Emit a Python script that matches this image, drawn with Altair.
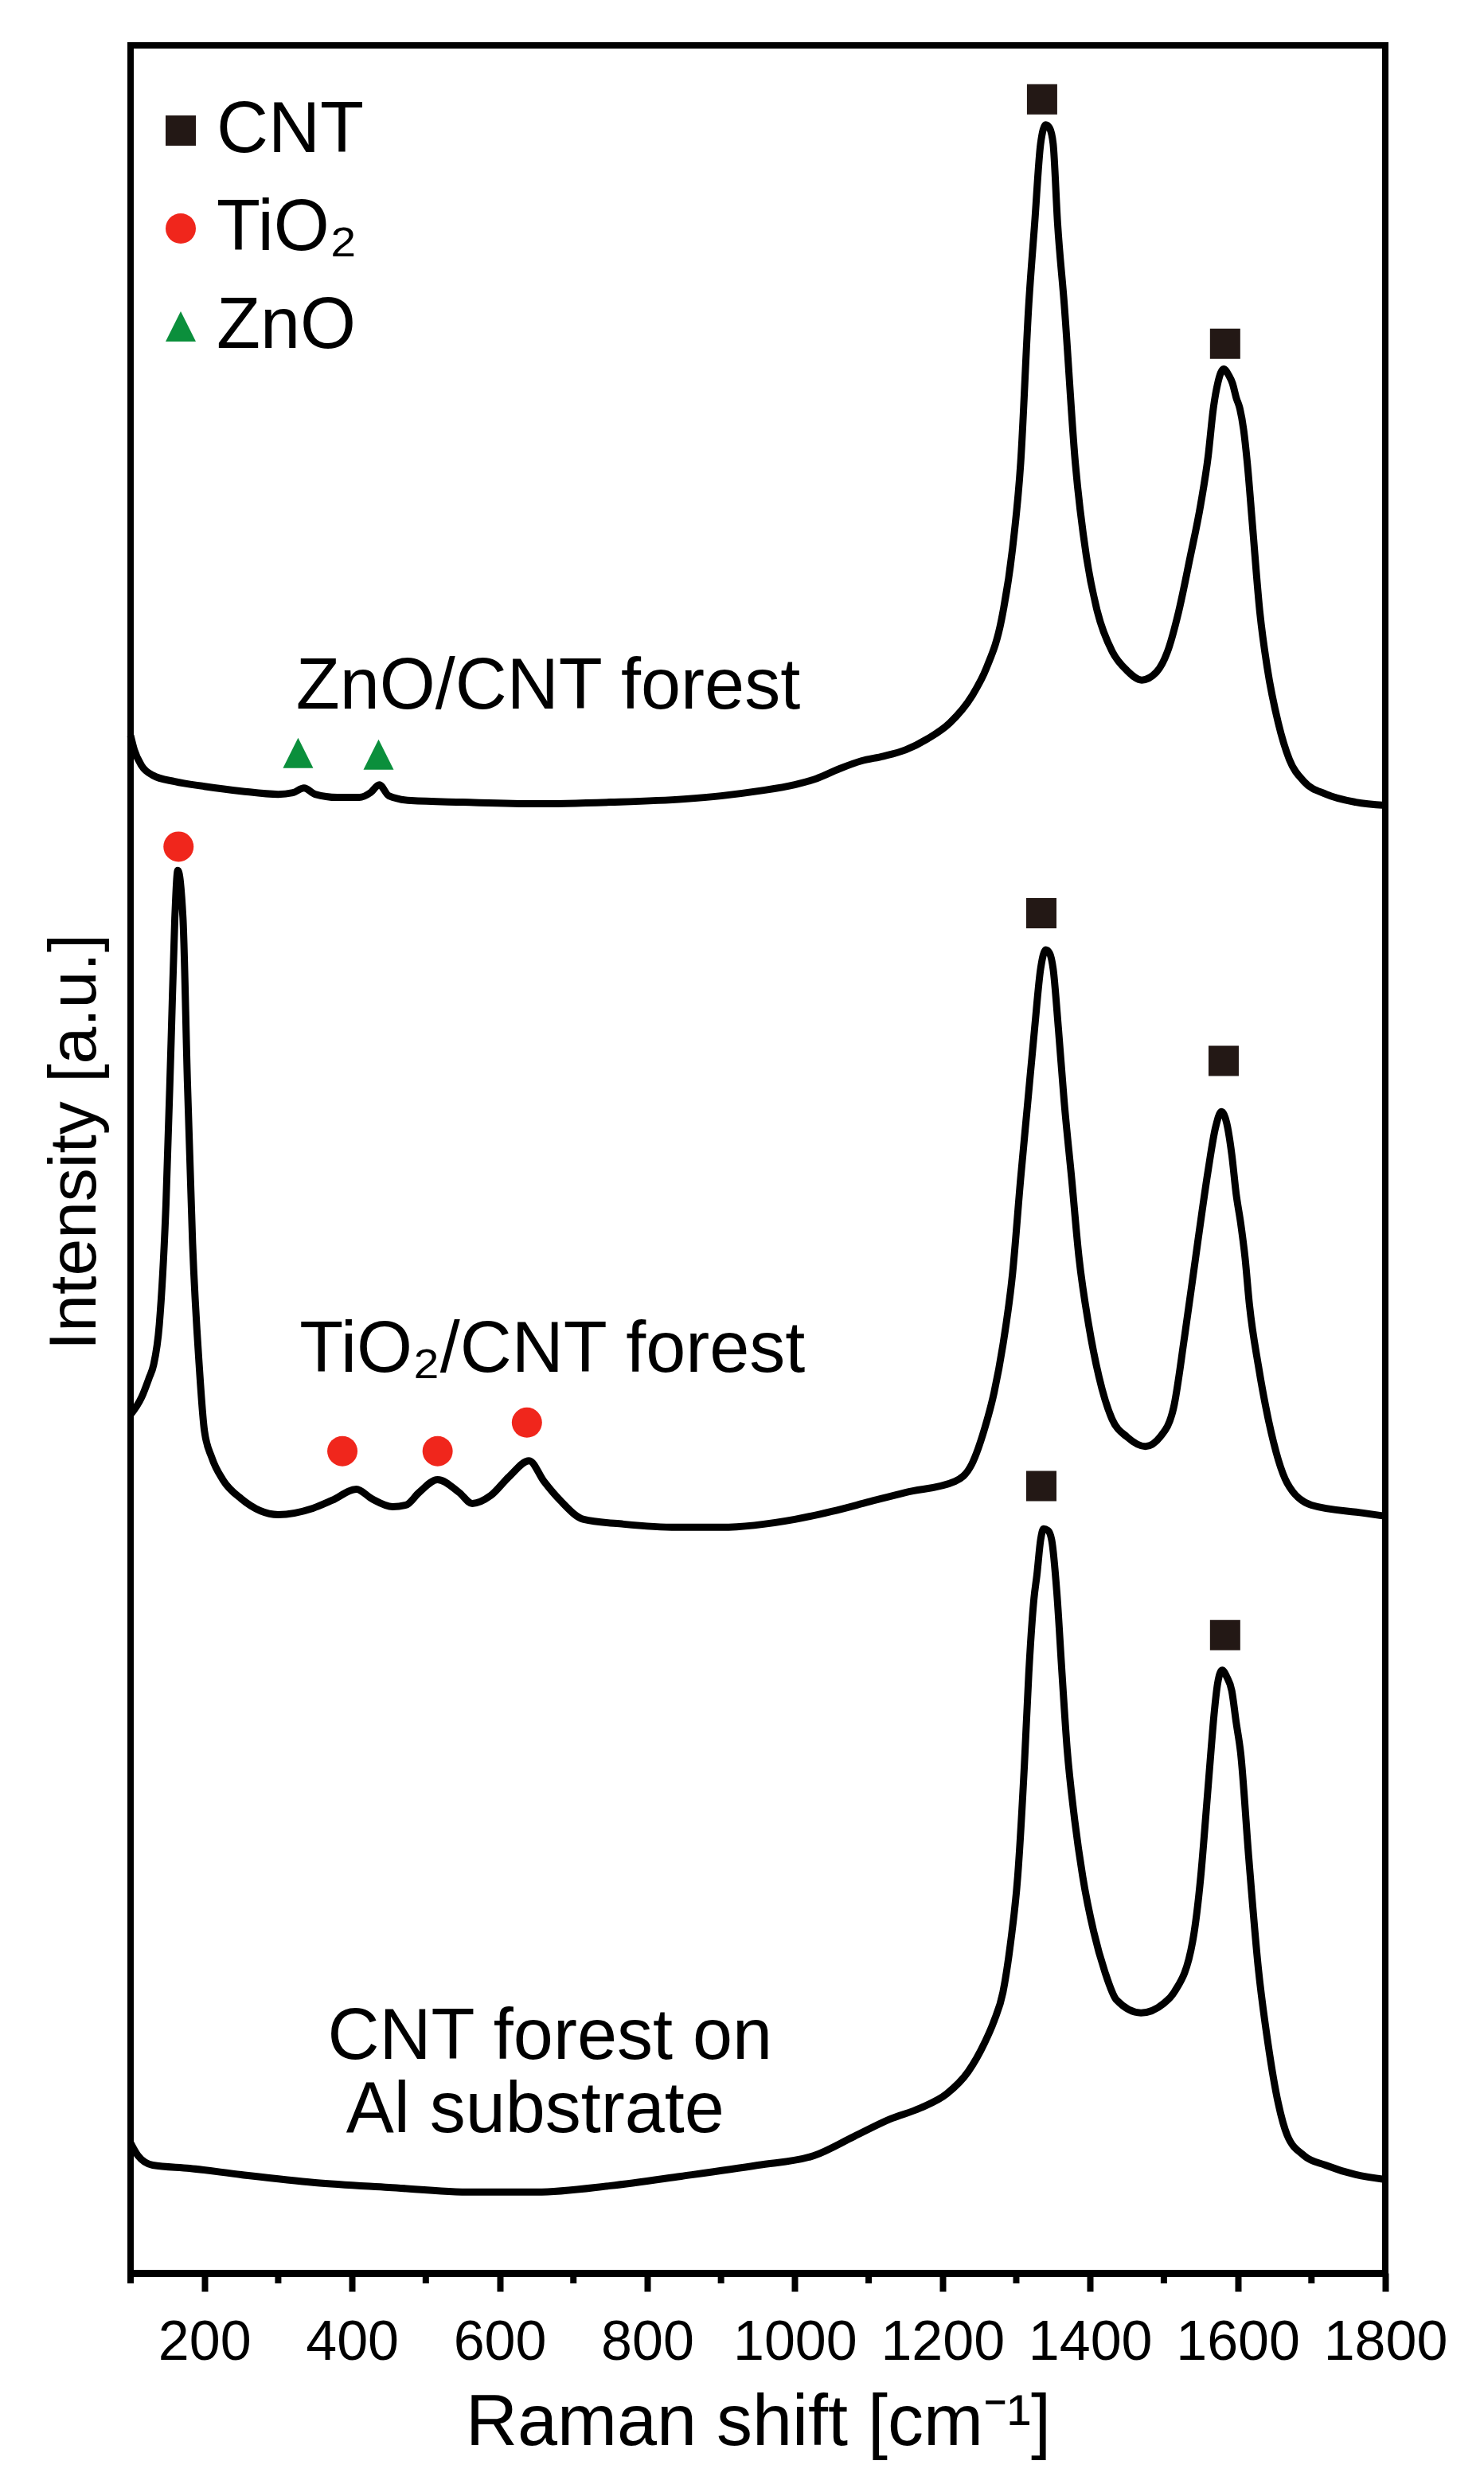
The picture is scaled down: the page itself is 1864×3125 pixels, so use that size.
import altair as alt
import pandas as pd

FONT = "Liberation Sans"

# ---- spectra: Raman shift [cm-1] and stacked intensity [a.u.] ----
zno_x = [100, 105, 115, 130, 160, 200, 250, 300, 320, 335, 350, 380, 410, 425, 437, 450, 480,
         550, 650, 750, 850, 900, 950, 1000, 1030, 1060, 1090, 1120, 1150, 1180, 1210, 1240,
         1260, 1280, 1295, 1306, 1317, 1325, 1333, 1340, 1345, 1350, 1356, 1365, 1380, 1395,
         1410, 1430, 1450, 1470, 1490, 1505, 1520, 1535, 1550, 1560, 1567, 1573, 1581, 1588,
         1593, 1598, 1603, 1608, 1613, 1620, 1630, 1640, 1655, 1670, 1690, 1720, 1760, 1800]
zno_y = [969, 960, 950, 944, 940, 937, 934, 932, 933, 936, 932, 930, 930, 933, 938, 931, 928,
         927, 926, 927, 929, 931, 934, 938, 942, 948, 953, 956, 960, 967, 977, 994,
         1012, 1042, 1087, 1141, 1241, 1292, 1342, 1354, 1352, 1342, 1292, 1241, 1141, 1082,
         1047, 1022, 1010, 1004, 1009, 1022, 1047, 1080, 1115, 1145, 1175, 1191, 1200, 1196,
         1191, 1182, 1175, 1162, 1141, 1102, 1047, 1012, 977, 954, 940, 932, 927, 925]

tio2_x = [100, 115, 125, 131, 139, 148, 155, 160, 164, 171, 177, 184, 193, 200, 210, 225, 250,
          300, 347, 373, 406, 427, 455, 473, 491, 516, 545, 563, 588, 613, 640, 660, 682, 714,
          768, 840, 900, 1000, 1050, 1100, 1150, 1217, 1240, 1257, 1270, 1282, 1295, 1306,
          1315, 1325, 1333, 1340, 1345, 1350, 1357, 1365, 1375, 1385, 1398, 1412, 1430, 1450,
          1475, 1495, 1513, 1528, 1546, 1560, 1570, 1578, 1585, 1592, 1598, 1604, 1610, 1616,
          1628, 1642, 1667, 1700, 1770, 1800]
tio2_y = [541, 552, 564, 572, 598, 674, 777, 854, 884, 854, 751, 649, 572, 531, 514, 500, 488,
          478, 482, 487, 494, 488, 483, 484, 492, 500, 492, 485, 490, 502, 512, 499, 487, 475,
          472, 470, 470, 475, 480, 486, 492, 499, 510, 532, 555, 585, 630, 690,
          735, 785, 822, 834, 832, 822, 785, 738, 690, 640, 598, 565, 538, 527,
          521, 527, 545, 590, 650, 695, 722, 732, 725, 705, 680, 662, 640, 610,
          572, 537, 498, 484, 479, 477]

al_x = [100, 110, 130, 180, 250, 350, 450, 564, 650, 750, 846, 950, 1026, 1080, 1129, 1170,
        1206, 1235, 1257, 1270, 1282, 1292, 1302, 1311, 1317, 1324, 1328, 1333, 1337, 1343,
        1348, 1355, 1362, 1369, 1378, 1390, 1405, 1420, 1436, 1469, 1500, 1514, 1539, 1550,
        1558, 1564, 1568, 1573, 1579, 1585, 1592, 1598, 1604, 1615, 1628, 1641, 1655, 1667,
        1690, 1719, 1760, 1800]
al_y = [82, 74, 68, 66, 62, 57, 54, 51, 51, 55, 61, 68, 74, 86, 97, 104,
        113, 127, 145, 159, 177, 207, 250, 320, 378, 425, 440, 462, 469, 468,
        462, 429, 378, 330, 290, 250, 215, 190, 172, 164, 170, 177, 209, 250,
        295, 330, 352, 372, 380, 376, 367, 347, 328, 262, 192, 145, 107, 87,
        74, 68, 62, 59]

# ---- peak markers ----
phases = ["CNT", "TiO₂", "ZnO"]
cnt_peak_x = [1335, 1583, 1334, 1581, 1334, 1583]
cnt_peak_y = [1370, 1216, 857, 764, 496, 402]
tio2_peak_x = [165, 387, 516, 637]
tio2_peak_y = [899, 518, 518, 536]
zno_peak_x = [327, 436]
zno_peak_y = [958, 957]

# ---- sample labels ----
labels = ["ZnO/CNT forest", "TiO₂/CNT forest", "CNT forest on", "Al substrate"]
label_x = [324, 329, 367, 392]
label_y = [986, 568, 135, 89]

major_ticks = [200, 400, 600, 800, 1000, 1200, 1400, 1600, 1800]
minor_ticks = [100, 300, 500, 700, 900, 1100, 1300, 1500, 1700]

# ---- tables ----
spec = pd.concat([
    pd.DataFrame({"shift": zno_x, "intensity": zno_y, "sample": "ZnO/CNT"}),
    pd.DataFrame({"shift": tio2_x, "intensity": tio2_y, "sample": "TiO2/CNT"}),
    pd.DataFrame({"shift": al_x, "intensity": al_y, "sample": "CNT/Al"}),
], ignore_index=True)

peaks = pd.concat([
    pd.DataFrame({"shift": cnt_peak_x, "intensity": cnt_peak_y, "phase": phases[0]}),
    pd.DataFrame({"shift": tio2_peak_x, "intensity": tio2_peak_y, "phase": phases[1]}),
    pd.DataFrame({"shift": zno_peak_x, "intensity": zno_peak_y, "phase": phases[2]}),
], ignore_index=True)

texts = pd.DataFrame({"shift": label_x, "intensity": label_y, "label": labels})
minor = pd.DataFrame({"shift": minor_ticks})

W, H = 1576, 2798
xs = alt.Scale(domain=[100, 1800], nice=False, zero=False)
ys = alt.Scale(domain=[0, 1404], nice=False, zero=False)

x_axis = alt.Axis(
    values=major_ticks, format="d", title="Raman shift [cm⁻¹]", grid=False,
    titleFont=FONT, titleFontSize=90, titleFontWeight="normal", titleColor="black",
    titleBaseline="alphabetic", titleY=215,
    labelFont=FONT, labelFontSize=70, labelColor="black", labelBaseline="alphabetic",
    labelPadding=85, labelOverlap=False, labelFlush=False,
    tickSize=23, tickWidth=8, tickColor="black",
    domainWidth=9, domainColor="black",
)
y_axis = alt.Axis(
    title="Intensity [a.u.]", labels=False, ticks=False, domain=False, grid=False,
    titleFont=FONT, titleFontSize=84, titleFontWeight="normal", titleColor="black",
    titleBaseline="alphabetic", titleAngle=270, titleAlign="center",
    titleX=-45, titleY=1377,
)

lines = alt.Chart(spec).mark_line(color="black", strokeWidth=9, strokeJoin="round",
                                  interpolate="monotone").encode(
    x=alt.X("shift:Q", scale=xs, axis=x_axis),
    y=alt.Y("intensity:Q", scale=ys, axis=y_axis),
    detail="sample:N",
)

minor_rules = alt.Chart(minor).mark_rule(color="black", strokeWidth=8).encode(
    x=alt.X("shift:Q", scale=xs),
    y=alt.value(H),
    y2=alt.value(H + 13),
)

legend = alt.Legend(
    title=None, orient="none", legendX=18, legendY=62, padding=0,
    symbolSize=1444, symbolStrokeWidth=0, symbolOpacity=1,
    labelFont=FONT, labelFontSize=90, labelColor="black", labelOffset=0,
    labelLimit=0, rowPadding=33,
)
points = alt.Chart(peaks).mark_point(filled=True, size=1444, opacity=1, strokeWidth=0).encode(
    x=alt.X("shift:Q", scale=xs),
    y=alt.Y("intensity:Q", scale=ys),
    color=alt.Color("phase:N", scale=alt.Scale(domain=phases, range=["#231815", "#f0261c", "#0b8f3c"]), legend=legend),
    shape=alt.Shape("phase:N", scale=alt.Scale(domain=phases, range=["square", "circle", "M0,-1L1,1L-1,1Z"]), legend=legend),
)

notes = alt.Chart(texts).mark_text(align="left", baseline="alphabetic", font=FONT, fontSize=90, color="black").encode(
    x=alt.X("shift:Q", scale=xs),
    y=alt.Y("intensity:Q", scale=ys),
    text="label:N",
)

chart = alt.layer(lines, minor_rules, points, notes).properties(
    width=W, height=H,
    padding={"left": 156, "top": 49, "right": 116, "bottom": 262},
    autosize=alt.AutoSizeParams(type="none"),
    background="white",
).configure_view(stroke="black", strokeWidth=8)

chart.save("out.html", embed_options={"renderer": "svg", "actions": False})
